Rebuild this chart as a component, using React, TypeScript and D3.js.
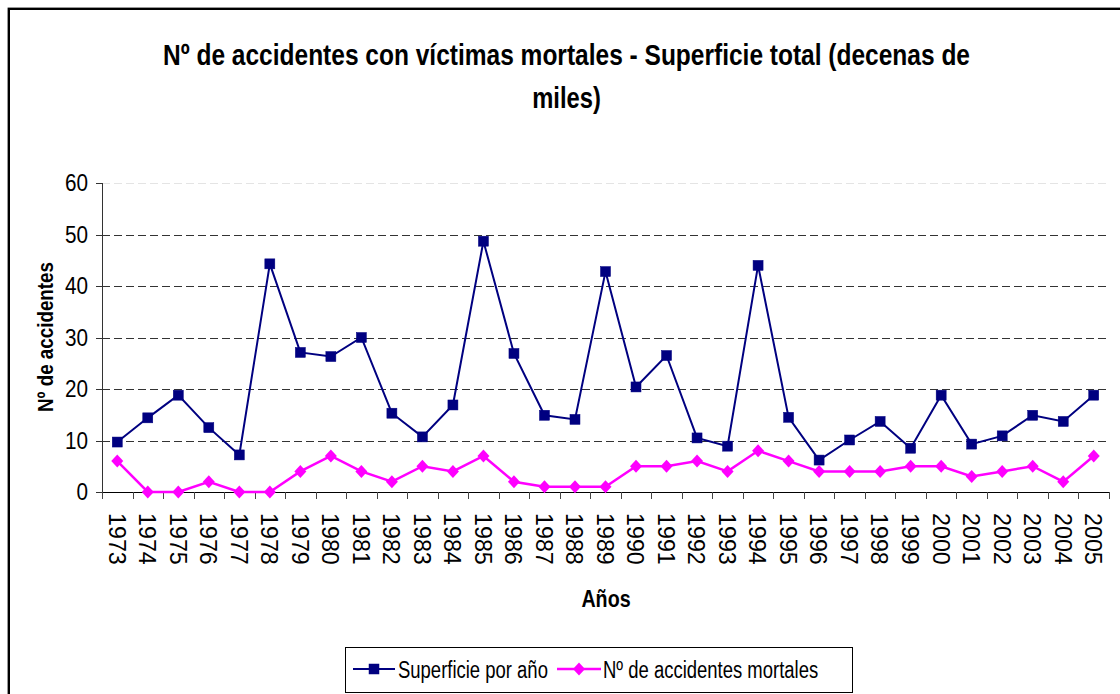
import React from "react";
import * as d3 from "d3";

const years: string[] = [
  "1973","1974","1975","1976","1977","1978","1979","1980","1981","1982","1983",
  "1984","1985","1986","1987","1988","1989","1990","1991","1992","1993","1994",
  "1995","1996","1997","1998","1999","2000","2001","2002","2003","2004","2005",
];
const superficie: number[] = [
  9.7, 14.4, 18.8, 12.5, 7.2, 44.3, 27.1, 26.3, 30.0, 15.3, 10.7,
  16.9, 48.7, 26.9, 14.9, 14.1, 42.8, 20.4, 26.5, 10.5, 8.9, 44.0,
  14.5, 6.2, 10.1, 13.7, 8.5, 18.8, 9.3, 10.9, 14.9, 13.7, 18.8,
];
const accidentes: number[] = [
  6, 0, 0, 2, 0, 0, 4, 7, 4, 2, 5,
  4, 7, 2, 1, 1, 1, 5, 5, 6, 4, 8,
  6, 4, 4, 4, 5, 5, 3, 4, 5, 2, 7,
];
const yTicks: number[] = [0, 10, 20, 30, 40, 50, 60];
const titleLines: string[] = [
  "Nº de accidentes con víctimas mortales - Superficie total (decenas de",
  "miles)",
];
const seriesNames: string[] = ["Superficie por año", "Nº de accidentes mortales"];
const yTitle = "Nº de accidentes";
const xTitle = "Años";

const BLUE = "#000080";
const PINK = "#FF00FF";
const FONT = "'Liberation Sans', Arial, sans-serif";

function CText(props: {
  x: number; y: number; rot?: number; sx?: number; sy?: number; size: number; weight?: string;
  anchor?: string; dy?: string; children: React.ReactNode; textLength?: number;
  adjust?: string;
}) {
  const { x, y, rot = 0, sx = 1, sy = 1, size, weight = "normal", anchor = "start", dy, children, textLength, adjust } = props;
  return (
    <g transform={`translate(${x},${y}) rotate(${rot}) scale(${sx},${sy})`}>
      <text
        fontFamily={FONT}
        fontSize={size}
        fontWeight={weight}
        textAnchor={anchor}
        dy={dy}
        fill="#000"
        textLength={textLength}
        lengthAdjust={textLength ? adjust || "spacingAndGlyphs" : undefined}
      >
        {children}
      </text>
    </g>
  );
}

function Square({ cx, cy }: { cx: number; cy: number }) {
  return <rect x={cx - 5} y={cy - 5} width={10} height={10} fill={BLUE} stroke={BLUE} strokeWidth={0.5} />;
}
function Diamond({ cx, cy }: { cx: number; cy: number }) {
  const w = 6, h = 6.5;
  return <path d={`M${cx},${cy - h}L${cx + w},${cy}L${cx},${cy + h}L${cx - w},${cy}Z`} fill={PINK} />;
}

export default function App() {
  const left = 102, right = 1109, top = 183, bottom = 492;
  const x = d3.scaleBand<string>().domain(years).range([left, right]).padding(0);
  const y = d3.scaleLinear().domain([0, 60]).range([bottom, top]);
  const cx = (yr: string) => (x(yr) as number) + x.bandwidth() / 2;

  const line = d3.line<number>()
    .x((_, i) => cx(years[i]))
    .y((d) => y(d));

  const boundaries = years.map((yr) => x(yr) as number).concat([right]);

  return (
    <svg
      width={1120}
      height={694}
      style={{ position: "absolute", left: 0, top: 0, display: "block", overflow: "hidden", background: "#fff" }}
    >
      <rect x={0} y={0} width={1120} height={694} fill="#fff" />
      <rect x={8.8} y={8.8} width={1140} height={720} fill="none" stroke="#000" strokeWidth={2.4} />

      {/* Title */}
      <CText x={566.5} y={65} size={25} sy={1.2} weight="bold" anchor="middle" textLength={807}>
        {titleLines[0]}
      </CText>
      <CText x={566.5} y={108} size={25} sy={1.2} weight="bold" anchor="middle" sx={0.95}>
        {titleLines[1]}
      </CText>

      {/* Gridlines */}
      {yTicks.filter((t) => t > 0).map((t) => (
        <line
          key={`g${t}`}
          x1={left}
          x2={right}
          y1={Math.round(y(t)) + 0.5}
          y2={Math.round(y(t)) + 0.5}
          stroke={t === 60 ? "#e4e4e4" : "#333"}
          strokeWidth={1}
          strokeDasharray="8,4"
        />
      ))}

      {/* Y axis */}
      <line x1={left + 0.5} x2={left + 0.5} y1={top} y2={bottom + 6} stroke="#333" strokeWidth={1} />
      {yTicks.map((t) => (
        <g key={`yt${t}`}>
          <line x1={left - 6} x2={left} y1={Math.round(y(t)) + 0.5} y2={Math.round(y(t)) + 0.5} stroke="#333" />
          <CText x={88} y={y(t)} size={23} sx={0.9} anchor="end" dy="0.36em">{String(t)}</CText>
        </g>
      ))}

      {/* X axis */}
      <line x1={left} x2={right + 0.5} y1={bottom + 0.5} y2={bottom + 0.5} stroke="#000" strokeWidth={1} />
      {boundaries.map((b, i) => (
        <line key={`xt${i}`} x1={Math.round(b) + 0.5} x2={Math.round(b) + 0.5} y1={bottom} y2={bottom + 7} stroke="#444" />
      ))}
      {years.map((yr) => (
        <CText key={`xl${yr}`} x={cx(yr)} y={513} rot={90} size={24} sx={0.97} anchor="start" dy="0.36em">
          {yr}
        </CText>
      ))}

      {/* Axis titles */}
      <CText x={45} y={337} rot={-90} size={22} weight="bold" anchor="middle" dy="0.36em" textLength={150}>
        {yTitle}
      </CText>
      <CText x={606} y={607} size={24} sx={0.82} weight="bold" anchor="middle">{xTitle}</CText>

      {/* Series */}
      <path d={line(superficie) || ""} fill="none" stroke={BLUE} strokeWidth={2} />
      <path d={line(accidentes) || ""} fill="none" stroke={PINK} strokeWidth={2.5} />
      {superficie.map((v, i) => <Square key={`s${i}`} cx={cx(years[i])} cy={y(v)} />)}
      {accidentes.map((v, i) => <Diamond key={`d${i}`} cx={cx(years[i])} cy={y(v)} />)}

      {/* Legend */}
      <rect x={345.5} y={647.5} width={507} height={45} fill="#fff" stroke="#000" strokeWidth={1} />
      <line x1={353} x2={395} y1={669} y2={669} stroke={BLUE} strokeWidth={2} />
      <Square cx={374} cy={669} />
      <CText x={398} y={678} size={24} sx={0.77}>{seriesNames[0]}</CText>
      <line x1={557} x2={601} y1={669} y2={669} stroke={PINK} strokeWidth={2.5} />
      <Diamond cx={579} cy={669} />
      <CText x={603} y={678} size={24} sx={0.77}>{seriesNames[1]}</CText>
    </svg>
  );
}
